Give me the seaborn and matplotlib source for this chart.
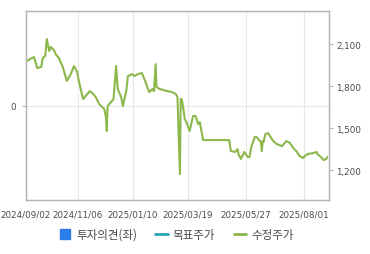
import matplotlib
matplotlib.use("Agg")
import matplotlib.pyplot as plt
import matplotlib.dates as mdates
from matplotlib.lines import Line2D
from matplotlib.ticker import FuncFormatter
import numpy as np
import pandas as pd
import seaborn as sns

# ---- data ----
dates = [
    "2024-09-03", "2024-09-07", "2024-09-12", "2024-09-16", "2024-09-21", "2024-09-23",
    "2024-09-26", "2024-09-28", "2024-10-01", "2024-10-03", "2024-10-07", "2024-10-09",
    "2024-10-13", "2024-10-18", "2024-10-23", "2024-10-28", "2024-11-01", "2024-11-05",
    "2024-11-07", "2024-11-12", "2024-11-17", "2024-11-20", "2024-11-24", "2024-11-27",
    "2024-12-01", "2024-12-07", "2024-12-09", "2024-12-10", "2024-12-11", "2024-12-16",
    "2024-12-18", "2024-12-21", "2024-12-23", "2024-12-27", "2024-12-29", "2025-01-02",
    "2025-01-04", "2025-01-09", "2025-01-12", "2025-01-16", "2025-01-21", "2025-01-25",
    "2025-01-30", "2025-02-03", "2025-02-05", "2025-02-07", "2025-02-08", "2025-02-12",
    "2025-02-21", "2025-02-27", "2025-03-04", "2025-03-06", "2025-03-09", "2025-03-10",
    "2025-03-11", "2025-03-12", "2025-03-15", "2025-03-17", "2025-03-21", "2025-03-25",
    "2025-03-28", "2025-03-31", "2025-04-02", "2025-04-06", "2025-05-07", "2025-05-09",
    "2025-05-14", "2025-05-17", "2025-05-18", "2025-05-21", "2025-05-25", "2025-05-29",
    "2025-05-31", "2025-06-02", "2025-06-06", "2025-06-08", "2025-06-10", "2025-06-13",
    "2025-06-14", "2025-06-15", "2025-06-16", "2025-06-18", "2025-06-21", "2025-06-24",
    "2025-06-27", "2025-07-01", "2025-07-07", "2025-07-10", "2025-07-12", "2025-07-16",
    "2025-07-19", "2025-07-24", "2025-07-27", "2025-07-31", "2025-08-02", "2025-08-05",
    "2025-08-11", "2025-08-15", "2025-08-16", "2025-08-20", "2025-08-23", "2025-08-26",
    "2025-08-27",
]
prices = [
    1979, 1993, 2007, 1929, 1936, 2000,
    2014, 2136, 2050, 2079, 2057, 2029,
    2000, 1936, 1836, 1886, 1943, 1900,
    1836, 1707, 1743, 1764, 1743, 1721,
    1671, 1636, 1579, 1479, 1657, 1693,
    1707, 1943, 1779, 1721, 1657, 1764,
    1871, 1886, 1871, 1886, 1893, 1836,
    1757, 1779, 1764, 1957, 1793, 1779,
    1764, 1757, 1743, 1721, 1171, 1707,
    1707, 1686, 1564, 1543, 1479, 1586,
    1586, 1529, 1543, 1414, 1414, 1336,
    1329, 1350, 1314, 1279, 1329, 1293,
    1293, 1364, 1436, 1436, 1421, 1400,
    1336, 1407, 1400, 1457, 1464, 1436,
    1407, 1386, 1371, 1393, 1407, 1393,
    1364, 1329, 1300, 1286, 1300, 1314,
    1321, 1329, 1314, 1293, 1271, 1279,
    1293,
]
tick_dates = ["2024-09-02", "2024-11-06", "2025-01-10", "2025-03-19", "2025-05-27", "2025-08-01"]
tick_labels = ["2024/09/02", "2024/11/06", "2025/01/10", "2025/03/19", "2025/05/27", "2025/08/01"]
end_date = "2025-08-29"
price_ticks = [1200, 1500, 1800, 2100]
price_range = [986, 2336]
legend_labels = ["투자의견(좌)", "목표주가", "수정주가"]

# ---- style ----
LINE = "#8cb84b"
BLUE = "#2b7de9"
TEAL = "#26a4b4"
SPINE = "#b4b4b4"
GRID = "#e8e8e8"
TXT = "#4a4a4a"

sns.set_theme(style="white")
plt.rcParams["font.family"] = ["DejaVu Sans"]

df = pd.DataFrame({"date": pd.to_datetime(dates), "price": prices})
df["x"] = mdates.date2num(df["date"])

# trading-day-like axis: piecewise-linear scale through the tick dates
kx = np.array(mdates.date2num(pd.to_datetime(tick_dates + [end_date])), float)
ky = np.array([0, 52, 107, 162, 220, 278, 303], float)
s0 = (ky[1] - ky[0]) / (kx[1] - kx[0])
s1 = (ky[-1] - ky[-2]) / (kx[-1] - kx[-2])


def fwd(x):
    x = np.asarray(x, float)
    y = np.interp(x, kx, ky)
    y = np.where(x < kx[0], ky[0] + (x - kx[0]) * s0, y)
    y = np.where(x > kx[-1], ky[-1] + (x - kx[-1]) * s1, y)
    return y


def inv(y):
    y = np.asarray(y, float)
    x = np.interp(y, ky, kx)
    x = np.where(y < ky[0], kx[0] + (y - ky[0]) / s0, x)
    x = np.where(y > ky[-1], kx[-1] + (y - ky[-1]) / s1, x)
    return x


fig = plt.figure(figsize=(3.70, 2.55), dpi=100)
ax = fig.add_axes([26 / 370, 1 - 201 / 255, (329 - 26) / 370, (201 - 12) / 255])
ax.set_xscale("function", functions=(fwd, inv))
ax2 = ax.twinx()

sns.lineplot(data=df, x="x", y="price", ax=ax2, color=LINE, linewidth=1.5, sort=False)

ax.set_xlim(kx[0], kx[-1])
ax.set_ylim(-1, 1)
ax.set_yticks([0])
ax.set_yticklabels(["0"])
ax2.set_ylim(*price_range)
ax2.set_yticks(price_ticks)
ax2.yaxis.set_major_formatter(FuncFormatter(lambda v, p: f"{int(v):,}"))

ax.set_xticks(kx[:-1])
ax.set_xticklabels(tick_labels)
ax.xaxis.set_minor_locator(matplotlib.ticker.NullLocator())

ax.grid(True, color=GRID, linewidth=0.8)
ax2.grid(False)
ax.set_xlabel("")
ax.set_ylabel("")
ax2.set_xlabel("")
ax2.set_ylabel("")

for a in (ax, ax2):
    for s in a.spines.values():
        s.set_color(SPINE)
        s.set_linewidth(0.9)

ax.tick_params(axis="x", length=3, width=0.8, color=SPINE, labelsize=6.3, labelcolor=TXT, pad=4)
ax.tick_params(axis="y", length=3, width=0.8, color=SPINE, labelsize=6.3, labelcolor=TXT, pad=4)
ax2.tick_params(axis="y", length=3, width=0.8, color=SPINE, labelsize=6.3, labelcolor=TXT, pad=2)

handles = [
    Line2D([], [], linestyle="none", marker="s", markersize=7, color=BLUE),
    Line2D([], [], color=TEAL, linewidth=2),
    Line2D([], [], color=LINE, linewidth=2),
]
leg = fig.legend(
    handles, legend_labels, loc="center", bbox_to_anchor=(0.476, 0.078), ncol=3,
    frameon=False, handlelength=1.1, handletextpad=0.4, columnspacing=1.6,
    prop={"family": ["Noto Sans CJK KR", "DejaVu Sans"], "size": 8.3},
)
for t in leg.get_texts():
    t.set_color(TXT)

fig.savefig("out.png", dpi=100)
